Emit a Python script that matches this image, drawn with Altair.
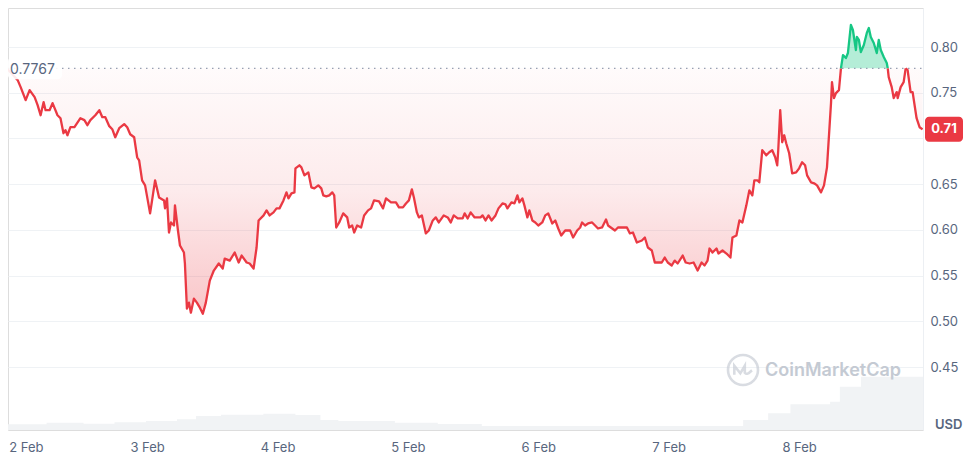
import altair as alt
import numpy as np
import pandas as pd

BASE_PRICE = 0.7767
LAST_PRICE = 0.71

# hours after 2 Feb 00:00
hours = [-1.83, 0.18, 0.73, 1.65, 2.38, 3.30, 3.85, 4.40, 4.95, 5.31, 6.05, 6.60, 7.51, 8.06, 8.61, 8.98, 9.34, 9.89, 10.63, 11.73,
         12.46, 13.01, 13.56, 14.47, 15.21, 15.76, 16.31, 17.04, 17.59, 18.14, 18.87, 19.79, 20.34, 20.89, 21.62, 22.17, 22.53, 23.08, 23.63, 24.55,
         24.92, 25.47, 26.20, 27.12, 27.30, 27.66, 28.03, 28.40, 28.95, 29.13, 29.68, 30.05, 30.78, 30.96, 31.33, 31.70, 32.06, 32.61, 33.16, 33.71,
         34.26, 34.81, 35.54, 36.28, 37.19, 37.92, 38.29, 39.21, 40.12, 40.86, 41.41, 42.32, 42.87, 43.60, 44.15, 44.52, 45.44, 45.99, 46.54, 47.27,
         47.82, 48.37, 49.10, 49.65, 50.02, 50.57, 51.12, 51.30, 52.03, 52.40, 52.95, 53.68, 54.23, 54.78, 55.51, 56.06, 56.43, 56.98, 57.53, 58.08,
         58.44, 58.81, 59.36, 60.09, 60.83, 61.19, 61.74, 62.11, 62.66, 63.39, 63.94, 64.67, 65.22, 65.77, 66.69, 67.42, 67.97, 68.89, 69.80, 70.35,
         71.09, 71.64, 72.18, 72.73, 73.10, 73.65, 74.02, 74.57, 75.30, 75.85, 76.58, 77.13, 77.68, 78.60, 79.33, 79.88, 80.43, 81.16, 82.08, 82.44,
         82.99, 83.54, 84.28, 85.37, 85.74, 86.29, 86.84, 87.39, 88.12, 88.67, 89.41, 89.96, 90.32, 91.06, 91.61, 92.15, 92.52, 93.07, 93.44, 93.99,
         94.35, 94.90, 95.45, 96.00, 96.73, 97.28, 97.83, 98.57, 99.12, 99.67, 100.22, 100.95, 101.86, 102.41, 103.15, 103.70, 104.06, 104.61, 105.16, 105.90,
         106.45, 106.99, 107.73, 108.46, 108.83, 110.11, 110.66, 111.57, 112.31, 112.86, 113.41, 114.14, 115.06, 115.61, 116.16, 116.89, 117.44, 117.99, 118.72, 119.27,
         119.82, 120.55, 121.10, 121.65, 122.57, 123.12, 123.85, 124.58, 125.32, 126.05, 126.60, 127.15, 127.51, 128.06, 128.80, 129.16, 129.90, 130.63, 131.36, 131.73,
         132.46, 133.01, 133.56, 134.29, 134.84, 135.39, 135.76, 136.31, 136.67, 137.22, 137.96, 138.51, 139.05, 139.60, 139.97, 140.16, 140.52, 140.89, 141.26, 141.62,
         142.17, 142.72, 143.45, 144.00, 144.55, 145.10, 145.47, 146.20, 146.75, 147.30, 148.03, 148.58, 149.13, 149.87, 150.05, 150.42, 150.78, 151.33, 151.70, 152.07,
         152.61, 152.98, 153.53, 153.90, 154.45, 154.63, 155.00, 155.36, 155.91, 156.46, 156.83, 157.19, 157.74, 158.29, 158.66, 159.03, 159.58, 160.13, 160.31, 160.49,
         161.04, 161.41, 161.96, 162.14, 162.69, 163.24, 163.61, 163.97, 164.52, 164.89, 165.62, 166.17, 166.72]

price = [0.7767, 0.7638, 0.7561, 0.7419, 0.7529, 0.7452, 0.7364, 0.7254, 0.7397, 0.7309, 0.7309, 0.7386, 0.7254, 0.7221, 0.7057, 0.7090, 0.7035, 0.7123, 0.7123, 0.7221,
         0.7200, 0.7145, 0.7200, 0.7254, 0.7309, 0.7232, 0.7232, 0.7134, 0.7101, 0.7013, 0.7112, 0.7156, 0.7123, 0.7046, 0.7013, 0.6794, 0.6761, 0.6542, 0.6487, 0.6180,
         0.6322, 0.6542, 0.6355, 0.6322, 0.6235, 0.6344, 0.5971, 0.6081, 0.6048, 0.6268, 0.5993, 0.5829, 0.5752, 0.5632, 0.5138, 0.5204, 0.5094, 0.5248, 0.5204, 0.5149,
         0.5083, 0.5204, 0.5445, 0.5555, 0.5632, 0.5577, 0.5686, 0.5664, 0.5752, 0.5643, 0.5719, 0.5643, 0.5632, 0.5577, 0.5807, 0.6103, 0.6158, 0.6213, 0.6158, 0.6191,
         0.6235, 0.6235, 0.6322, 0.6410, 0.6344, 0.6399, 0.6410, 0.6673, 0.6706, 0.6684, 0.6596, 0.6629, 0.6465, 0.6454, 0.6487, 0.6454, 0.6377, 0.6366, 0.6377, 0.6410,
         0.6377, 0.6026, 0.6081, 0.6180, 0.6136, 0.6026, 0.6048, 0.5971, 0.6048, 0.6026, 0.6158, 0.6213, 0.6235, 0.6322, 0.6311, 0.6235, 0.6344, 0.6300, 0.6300, 0.6246,
         0.6246, 0.6289, 0.6322, 0.6443, 0.6355, 0.6191, 0.6136, 0.6158, 0.5961, 0.5993, 0.6103, 0.6136, 0.6081, 0.6158, 0.6136, 0.6081, 0.6158, 0.6125, 0.6125, 0.6180,
         0.6125, 0.6191, 0.6136, 0.6136, 0.6158, 0.6103, 0.6158, 0.6103, 0.6158, 0.6235, 0.6289, 0.6278, 0.6235, 0.6300, 0.6289, 0.6377, 0.6300, 0.6344, 0.6268, 0.6136,
         0.6213, 0.6103, 0.6081, 0.6048, 0.6081, 0.6158, 0.6180, 0.6070, 0.6103, 0.6015, 0.5939, 0.5993, 0.5993, 0.5917, 0.5993, 0.6026, 0.6081, 0.6048, 0.6070, 0.6081,
         0.6048, 0.6015, 0.6026, 0.6114, 0.6048, 0.5993, 0.6026, 0.6026, 0.6026, 0.5961, 0.5971, 0.5862, 0.5884, 0.5917, 0.5807, 0.5774, 0.5643, 0.5643, 0.5643, 0.5697,
         0.5643, 0.5610, 0.5664, 0.5632, 0.5719, 0.5643, 0.5632, 0.5643, 0.5555, 0.5643, 0.5610, 0.5664, 0.5796, 0.5752, 0.5796, 0.5741, 0.5774, 0.5741, 0.5697, 0.5917,
         0.5939, 0.6103, 0.6081, 0.6268, 0.6432, 0.6377, 0.6542, 0.6542, 0.6520, 0.6871, 0.6816, 0.6849, 0.6871, 0.6794, 0.6706, 0.6871, 0.7309, 0.6958, 0.7035, 0.6947,
         0.6838, 0.6618, 0.6629, 0.6673, 0.6739, 0.6706, 0.6596, 0.6520, 0.6509, 0.6487, 0.6410, 0.6487, 0.6684, 0.7386, 0.7616, 0.7441, 0.7496, 0.7529, 0.7767, 0.7912,
         0.7879, 0.7934, 0.8241, 0.8186, 0.7967, 0.8110, 0.8077, 0.7945, 0.8022, 0.8154, 0.8208, 0.8110, 0.8044, 0.7934, 0.8077, 0.7967, 0.7890, 0.7825, 0.7767, 0.7671,
         0.7561, 0.7441, 0.7507, 0.7441, 0.7561, 0.7616, 0.7767, 0.7748, 0.7507, 0.7507, 0.7221, 0.7123, 0.7100]

# trading volume (relative units), step values starting at given hour
vol_hours = [-1.6, 5.5, 12.3, 18.0, 23.8, 29.5, 33.0, 37.6, 45.4, 51.3, 55.9, 59.2, 69.6, 77.5, 85.6, 133.7, 138.3, 142.4, 149.7, 151.5, 155.4, 166.8]
volume = [17, 22, 19, 23, 27, 32, 42, 46, 49, 45, 30, 27, 22, 18, 12, 30, 50, 77, 85, 130, 160, 160]

day_labels = [2, 3, 4, 5, 6, 7, 8]
y_ticks = [0.45, 0.50, 0.55, 0.60, 0.65, 0.70, 0.75, 0.80]

assert len(hours) == len(price), (len(hours), len(price))

RED = "#ea3943"
GREEN = "#16c784"
GRAY = "#58667e"
W, H = 915, 422

T0 = pd.Timestamp("2025-02-02 00:00:00")


def ts(h):
    return (T0 + pd.to_timedelta(h, unit="h")).strftime("%Y-%m-%dT%H:%M:%S")


# split the line into runs on one side of the opening price
rows = []
seg, cur = 0, None
for h, v in zip(hours, price):
    s = 1 if v > BASE_PRICE + 1e-9 else (-1 if v < BASE_PRICE - 1e-9 else 0)
    if s == 0:
        rows.append((ts(h), v, seg, cur))
        seg += 1
        cur = None
        rows.append((ts(h), v, seg, cur))
        continue
    if cur is None:
        cur = s
        rows = [(a, b, c, (s if c == seg else d)) for (a, b, c, d) in rows]
    elif s != cur:
        seg += 1
        cur = s
    rows.append((ts(h), v, seg, cur))

line_df = pd.DataFrame(rows, columns=["time", "price", "seg", "side"])
line_df["col"] = np.where(line_df["side"] == 1, GREEN, RED)

df = pd.DataFrame({"time": [ts(h) for h in hours], "price": price})
df["base"] = BASE_PRICE
df["lo"] = np.minimum(df["price"], BASE_PRICE)
df["hi"] = np.maximum(df["price"], BASE_PRICE)

vol_df = pd.DataFrame({"time": [ts(h) for h in vol_hours], "vol": volume})

x_scale = alt.Scale(domain=[alt.DateTime(year=2025, month=2, date=1, hours=22, minutes=24),
                            alt.DateTime(year=2025, month=2, date=8, hours=22, minutes=48)])
x_axis = alt.Axis(values=[alt.DateTime(year=2025, month=2, date=d) for d in day_labels],
                  format="%-d %b", grid=False, domain=False, ticks=False, labelPadding=11,
                  labelFontSize=13, labelColor=GRAY, labelFont="Inter",
                  labelFlush=30, labelFlushOffset=8,
                  labelOverlap=False, title=None)
Y_TOP = 0.84266
Y_BOT = Y_TOP - H / 914.3
y_scale = alt.Scale(domain=[Y_BOT, Y_TOP], nice=False, zero=False)
y_axis = alt.Axis(orient="right", values=y_ticks, grid=True, gridColor="#eff2f5", gridWidth=1,
                  domain=True, domainColor="#eceff3", ticks=False, labelPadding=7,
                  labelFontSize=13, labelColor=GRAY, labelFont="Inter",
                  labelExpr="abs(datum.value - 0.7) < 0.001 ? '' : format(datum.value, '.2f')",
                  title=None)


def X():
    return alt.X("time:T", scale=x_scale, axis=x_axis, title=None)


def Y(field):
    return alt.Y(f"{field}:Q", scale=y_scale, axis=y_axis, title=None)


red_grad = alt.Gradient(gradient="linear", x1=0, x2=0, y1=0, y2=1, stops=[
    alt.GradientStop(color="rgba(234,57,67,0.02)", offset=0),
    alt.GradientStop(color="rgba(234,57,67,0.10)", offset=0.5),
    alt.GradientStop(color="rgba(234,57,67,0.29)", offset=1),
])

volume_layer = alt.Chart(vol_df).mark_area(interpolate="step-after", color="#f1f3f5", clip=True).encode(
    x=X(),
    y=alt.Y("vol:Q", scale=alt.Scale(domain=[0, H * 3], nice=False), axis=None, title=None),
)

red_area = alt.Chart(df).mark_area(fill=red_grad, clip=True).encode(x=X(), y=Y("lo"), y2="base:Q")
green_area = alt.Chart(df).mark_area(color="rgba(22,199,132,0.32)", clip=True).encode(x=X(), y=Y("hi"), y2="base:Q")

ann = pd.DataFrame({"base": [BASE_PRICE], "last": [LAST_PRICE],
                    "base_txt": [f"{BASE_PRICE:.4f}"], "last_txt": [f"{LAST_PRICE:.2f}"]})

base_rule = alt.Chart(ann).mark_rule(strokeDash=[1.5, 4.5], color="#97a0b2", strokeWidth=1.2).encode(
    y=Y("base"), x=alt.value(0), x2=alt.value(W))

price_line = alt.Chart(line_df).mark_line(strokeWidth=2.3, clip=True, strokeJoin="round").encode(
    x=X(), y=Y("price"), detail="seg:N", color=alt.Color("col:N", scale=None))

base_box = alt.Chart(ann).mark_rect(color="white", opacity=0.9, cornerRadius=4, yOffset=-11, y2Offset=11).encode(
    y=Y("base"), y2="base:Q", x=alt.value(0), x2=alt.value(54))
base_text = alt.Chart(ann).mark_text(align="left", baseline="middle", fontSize=14, color=GRAY, font="Inter", dy=2).encode(
    y=Y("base"), x=alt.value(2), text="base_txt:N")

last_box = alt.Chart(ann).mark_rect(color=RED, cornerRadius=4, yOffset=-12.5, y2Offset=12.5).encode(
    y=Y("last"), y2="last:Q", x=alt.value(W + 2), x2=alt.value(W + 40))
last_text = alt.Chart(ann).mark_text(align="center", baseline="middle", fontSize=13, fontWeight="bold",
                                     color="white", font="Inter").encode(
    y=Y("last"), x=alt.value(W + 21), text="last_txt:N")

wm = pd.DataFrame({"t": ["CoinMarketCap"]})
wm_circle = alt.Chart(wm).mark_point(shape="circle", size=900, filled=False, stroke="#c9ced6", strokeWidth=2.6).encode(
    x=alt.value(735), y=alt.value(362))
wm_wave = alt.Chart(wm).mark_point(
    shape="M-0.58,0.32 L-0.58,-0.28 L-0.18,0.22 L0.12,-0.28 L0.12,0.18 C0.28,0.38 0.45,0.12 0.6,0.02",
    size=900, filled=False, stroke="#c9ced6", strokeWidth=2.6).encode(x=alt.value(735), y=alt.value(362))
wm_text = alt.Chart(wm).mark_text(align="left", baseline="middle", fontSize=18, fontWeight=600,
                                  color="#c4cad3", font="Inter").encode(
    x=alt.value(757), y=alt.value(363), text="t:N")

usd = alt.Chart(pd.DataFrame({"t": ["USD"]})).mark_text(align="left", baseline="middle", fontSize=13,
                                                       fontWeight=600, color=GRAY, font="Inter").encode(
    x=alt.value(W + 12), y=alt.value(H - 5), text="t:N")

price_layers = alt.layer(red_area, green_area, base_rule, price_line, base_box, base_text,
                         wm_circle, wm_wave, wm_text, last_box, last_text, usd)

chart = alt.layer(volume_layer, price_layers).resolve_scale(y="independent").properties(
    width=W, height=H,
    autosize=alt.AutoSizeParams(type="none"),
    padding={"left": 0, "top": 0, "right": 40, "bottom": 26},
    background="white",
).configure_view(stroke=None).configure(font="Inter")

chart.save("out.html", embed_options={"renderer": "svg", "actions": False})
